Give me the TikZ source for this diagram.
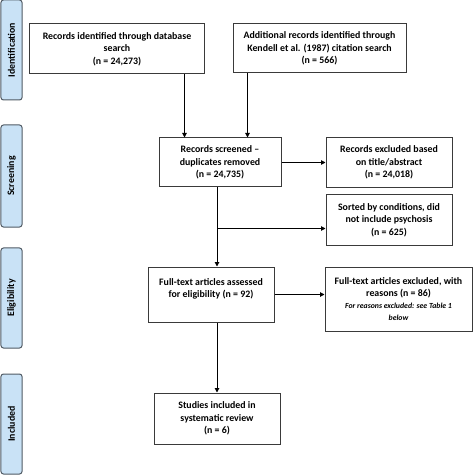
\documentclass[tikz,border=0pt]{standalone}
\usepackage{fontspec}
\setmainfont{Carlito}
\usetikzlibrary{arrows.meta}
\definecolor{sidefill}{HTML}{C9E2F6}
\definecolor{sidedraw}{HTML}{505A64}
\definecolor{boxdraw}{HTML}{3A3A3A}
\tikzset{
  box/.style={draw=boxdraw, line width=1bp, fill=white, align=center, inner sep=0pt,
    font=\fontsize{9.9}{12.4}\selectfont\bfseries},
  side/.style={draw=sidedraw, line width=1bp, fill=sidefill, rounded corners=2.5bp,
    minimum width=21bp, minimum height=100bp, inner sep=0pt},
  sidetext/.style={rotate=90, font=\fontsize{9.9}{11}\selectfont\bfseries},
  arr/.style={draw=black, line width=1bp, -{Triangle[length=4.5bp,width=4.5bp]}},
}
\newcommand{\smallit}{\fontsize{7.8}{11.5}\selectfont\itshape}
\begin{document}
\begin{tikzpicture}[x=1bp,y=-1bp]
\useasboundingbox (0,0) rectangle (473,475);
% side labels
\node[side] (s1) at (11.5,50) {};
\node[sidetext] (t1) at (s1.center) {Identification};
\node[side, minimum height=102bp] (s2) at (11.5,176) {};
\node[sidetext] (t2) at (s2.center) {Screening};
\node[side] (s3) at (11.5,298) {};
\node[sidetext] (t3) at (s3.center) {Eligibility};
\node[side] (s4) at (11.5,424) {};
\node[sidetext] (t4) at (s4.center) {Included};
% boxes
\node[box, minimum width=174bp, minimum height=50bp] (id1) at (117,49)
  {Records identified through database\\search\\(n = 24,273)};
\node[box, minimum width=173bp, minimum height=49bp] (id2) at (319.5,48.5)
  {Additional records identified through\\Kendell et al. (1987) citation search\\(n = 566)};
\node[box, minimum width=122bp, minimum height=49bp] (scr) at (220,162.5)
  {Records screened --\\duplicates removed\\(n = 24,735)};
\node[box, minimum width=126bp, minimum height=50bp] (exc1) at (389,162.5)
  {Records excluded based\\on title/abstract\\(n = 24,018)};
\node[box, minimum width=126bp, minimum height=50bp] (sort) at (389,220)
  {Sorted by conditions, did\\not include psychosis\\(n = 625)};
\node[box, minimum width=126bp, minimum height=55bp] (elig) at (211,294.5)
  {Full-text articles assessed\\for eligibility (n = 92)\\\mbox{}};
\node[box, minimum width=147bp, minimum height=64bp] (exc2) at (398.5,299)
  {Full-text articles excluded, with\\reasons (n = 86)\\[-1bp]
   \smallit For reasons excluded: see Table 1\\\smallit below};
\node[box, minimum width=126bp, minimum height=51bp] (incl) at (217,418.5)
  {Studies included in\\systematic review\\(n = 6)};
% connectors
\coordinate (a1) at ([xshift=-20bp]id1.south east);
\coordinate (a2) at ([xshift=15bp]id2.south west);
\draw[arr] (a1) -- (a1 |- scr.north);
\draw[arr] (a2) -- (a2 |- scr.north);
\draw[arr] (scr.east) -- (exc1.west |- scr.east);
\coordinate (v1) at ([xshift=-3bp]scr.south);
\coordinate (br) at ([yshift=-41bp]v1);
\draw[arr] (v1) -- (v1 |- elig.north);
\draw[arr] (br) -- (sort.west |- br);
\draw[arr] (elig.east) -- (exc2.west |- elig.east);
\coordinate (v2) at (v1 |- elig.south);
\draw[arr] (v2) -- (v2 |- incl.north);
\end{tikzpicture}
\end{document}
